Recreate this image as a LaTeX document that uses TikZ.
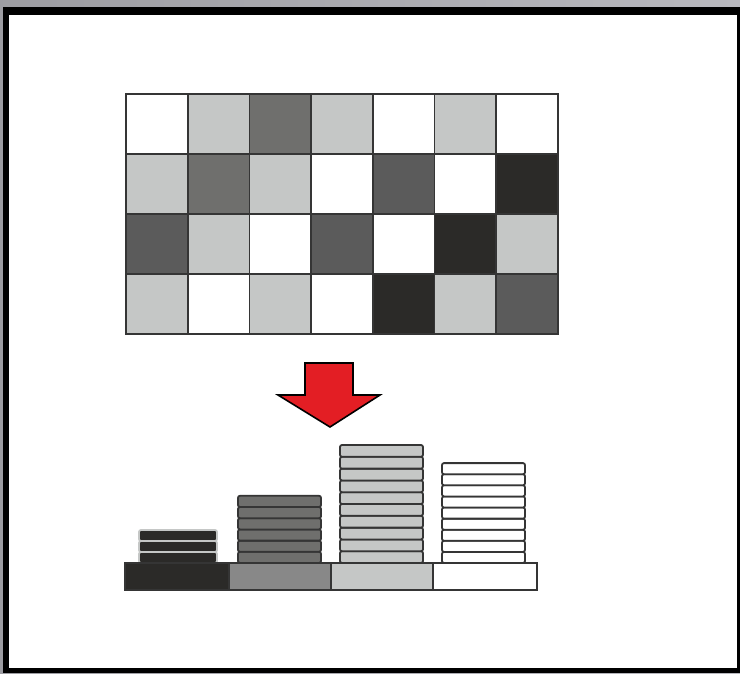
\documentclass[tikz,border=0pt]{standalone}
\definecolor{gW}{HTML}{FFFFFF}
\definecolor{gL}{HTML}{C5C7C6}
\definecolor{gM}{HTML}{6F6F6D}
\definecolor{gD}{HTML}{5B5B5B}
\definecolor{gB}{HTML}{2B2A28}
\definecolor{gS}{HTML}{888888}
\definecolor{edge}{HTML}{353535}
\definecolor{arrowred}{HTML}{E31E24}
\definecolor{topgray}{HTML}{B8B8BE}
\tikzset{
  cell/.style={draw=edge, line width=1.7pt},
  plate/.style={draw=edge, line width=1.8pt, rounded corners=2pt},
  basebar/.style={draw=edge, line width=1.6pt}
}
\begin{document}
\begin{tikzpicture}[x=1pt, y=-1pt]
        % Frame
        \useasboundingbox (0,0) rectangle (740,673);
        \shade[left color=topgray!85!black, right color=topgray] (0,0) rectangle (740,673);
        \fill[black] (3,7) rectangle (740,673);
        \fill[white] (8.5,15) rectangle (737,668);
        
        % Grid of cells
        \foreach \row [count=\r from 0] in {{W,L,M,L,W,L,W},{L,M,L,W,D,W,B},{D,L,W,D,W,B,L},{L,W,L,W,B,L,D}} {
            \foreach \c [count=\col from 0] in \row {
                \filldraw[cell, fill=g\c] (126+61.7*\col, 94+60*\r) rectangle ++(61.7, 60);
            }
        }
        
        % Arrow
        \filldraw[fill=arrowred, draw=black, line width=1.6pt, line join=miter]
            (305,363) -- (353,363) -- (353,395) -- (380,395) -- (330,427) -- (278,395) -- (305,395) -- cycle;
        
        % Stacks
        \foreach \xa/\xb/\n/\h/\f/\d in {139/217/3/11/gB/gL, 238/321/6/11.2/gM/edge, 340/423/10/11.8/gL/edge, 442/525/9/11.1/gW/edge} {
            \foreach \k in {1,...,\n} {
                \filldraw[plate, fill=\f, draw=\d] (\xa, 563-\h*\k) rectangle (\xb, 563-\h*\k+\h);
            }
        }
        
        % Base bar
        \foreach \xa/\xb/\f in {125/229/gB, 229/331/gS, 331/433/gL, 433/537/gW} {
            \filldraw[basebar, fill=\f] (\xa,563) rectangle (\xb,590);
        }
    \end{tikzpicture}
\end{document}
